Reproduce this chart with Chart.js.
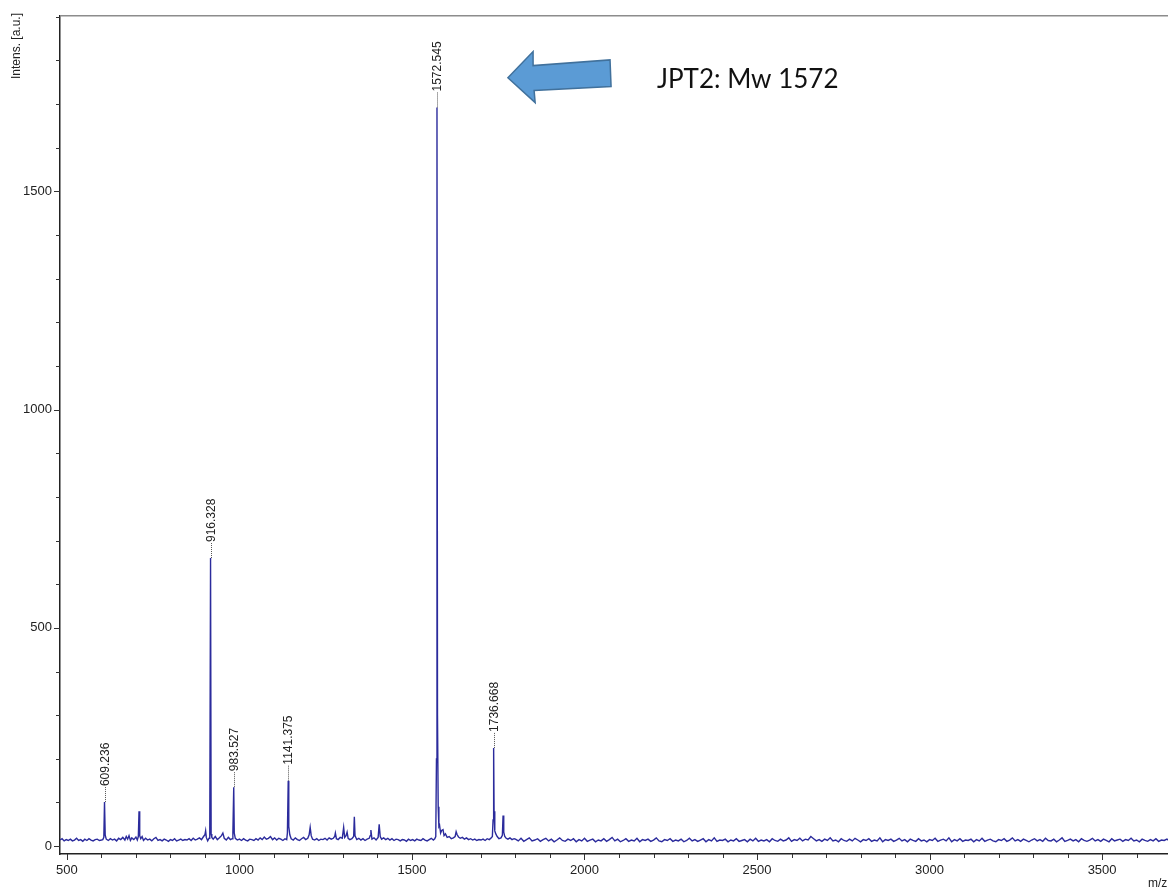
<!DOCTYPE html>
<html lang="en">
<head>
  <meta charset="UTF-8">
  <title>JPT2 MALDI spectrum</title>
  <script src="https://cdn.jsdelivr.net/npm/chart.js"></script>
  <style>
    html, body { margin: 0; padding: 0; background: #fff; }
    #wrap { width: 1168px; height: 891px; }
  </style>
</head>
<body>
  <div id="wrap"><canvas id="spec" width="1168" height="891"></canvas></div>
  <script>
    // spectrum, [m/z, intensity]
    const lowRange = [
      [480,14],[486,17],[492,12],[498,15],[504,13],[510,16],[516,12],[522,14],[528,18],[534,13],
      [540,15],[546,11],[552,16],[558,13],[564,17],[570,14],[576,12],[582,15],[588,16],[594,13],
      [600,14],[604,15],[607,20],[609,101],[611,25],[614,16],[620,13],[626,17],[632,14],[638,16],
      [644,12],[650,18],[656,15],[662,20],[668,14],[672,22],[676,16],[680,24],[684,13],[688,19],
      [694,15],[700,21],[704,14],[707,22],[709,80],[711,24],[714,17],[718,22],[722,13],[728,18],
      [734,14],[740,16],[746,12],[752,17],[758,20],[764,13],[770,15],[776,12],[782,16],[788,14],
      [794,11],[800,15],[806,13],[812,17],[818,12],[824,14],[830,16],[836,13],[842,15],[848,14],
      [854,17],[860,13],[866,18],[872,14],[878,16],[884,19],[890,15],[896,22],[900,26],[902,35],
      [904,20],[908,12],[912,18],[914,25],[916.3,660],[918,28],[920,20],[924,16],[930,22],[936,15],
      [942,19],[948,24],[952,30],[956,18],[962,14],[968,20],[974,15],[979,17],[981,30],[983.5,135],
      [985,30],[988,18],[994,14],[1000,16]
    ];
    const midRange = [
      [1006,13],[1012,17],[1018,14],[1024,12],[1030,16],[1036,15],[1042,13],[1048,17],[1054,14],[1060,19],
      [1066,15],[1072,21],[1078,16],[1084,18],[1090,22],[1096,15],[1102,19],[1108,14],[1114,18],[1120,16],
      [1126,13],[1132,17],[1137,15],[1139,30],[1141.4,150],[1143,45],[1146,26],[1150,17],[1156,14],[1162,19],
      [1168,15],[1174,13],[1180,17],[1186,20],[1192,15],[1198,18],[1202,26],[1205,43],[1208,24],[1212,16],
      [1218,14],[1224,17],[1230,13],[1236,16],[1242,15],[1248,18],[1254,14],[1260,19],[1266,16],[1272,18],
      [1276,22],[1278,30],[1281,17],[1286,15],[1292,20],[1298,18],[1302,43],[1305,20],[1309,24],[1312,32],
      [1315,18],[1320,15],[1326,17],[1331,22],[1333,67],[1335,24],[1340,15],[1346,18],[1352,14],[1358,17],
      [1364,13],[1370,16],[1376,18],[1379,24],[1381,37],[1384,16],[1390,19],[1396,14],[1402,20],[1405,50],
      [1408,22],[1412,16],[1418,19],[1424,15],[1430,18],[1436,14],[1442,17],[1448,13],[1454,16],[1460,15],
      [1466,12],[1472,15],[1478,14],[1484,11],[1490,16],[1496,13],[1502,15],[1508,12],[1514,16],[1520,14],
      [1526,13],[1532,17],[1538,14],[1544,12],[1550,15],[1556,18],[1562,14],[1566,17],[1569,22],[1571,200],
      [1572.5,1692],[1574,300],[1576,90],[1578,45],[1580,48],[1583,30],[1586,36],[1590,38],[1593,24],[1597,28],
      [1602,20],[1608,22],[1614,17],[1620,19],[1625,22],[1628,33],[1631,26],[1635,21],[1640,18],[1646,20],
      [1652,16],[1658,19],[1664,15],[1670,17],[1676,14],[1682,16],[1688,13],[1694,15],[1700,14],[1706,16],
      [1712,13],[1718,17],[1724,15],[1730,19],[1733,22],[1735,60],[1736.7,225],[1738,80],[1740,35],[1743,28],
      [1747,22],[1752,17],[1758,19],[1762,25],[1764,70],[1766,32],[1769,22],[1773,18],[1778,16],[1784,19],
      [1790,15],[1796,17]
    ];
    const highRange = [
      [1800,16],[1808,12],[1816,18],[1824,11],[1832,15],[1840,19],[1848,12],[1856,14],[1864,17],[1872,11],
      [1880,15],[1888,18],[1896,12],[1904,16],[1912,10],[1920,14],[1928,19],[1936,13],[1944,11],[1952,16],
      [1960,13],[1968,17],[1976,10],[1984,15],[1992,12],[2000,18],[2008,11],[2016,14],[2024,16],[2032,10],
      [2040,14],[2048,12],[2056,17],[2064,11],[2072,15],[2080,20],[2088,12],[2096,16],[2104,10],[2112,13],
      [2120,17],[2128,11],[2136,14],[2144,12],[2152,18],[2160,10],[2168,15],[2176,13],[2184,16],[2192,11],
      [2200,14],[2208,19],[2216,12],[2224,10],[2232,15],[2240,13],[2248,17],[2256,11],[2264,14],[2272,12],
      [2280,16],[2288,10],[2296,13],[2304,18],[2312,12],[2320,15],[2328,11],[2336,14],[2344,17],[2352,10],
      [2360,15],[2368,12],[2376,19],[2384,11],[2392,14],[2400,13],[2408,16],[2416,10],[2424,14],[2432,12],
      [2440,17],[2448,11],[2456,13],[2464,15],[2472,10],[2480,16],[2488,12],[2496,18],[2504,11],[2512,14],
      [2520,12],[2528,15],[2536,10],[2544,17],[2552,13],[2560,11],[2568,16],[2576,12],[2584,14],[2592,19],
      [2600,11],[2608,15],[2616,13],[2624,18],[2632,12],[2640,16],[2648,14],[2656,22],[2664,17],[2672,12],
      [2680,15],[2688,11],[2696,16],[2704,13],[2712,19],[2720,12],[2728,14],[2736,10],[2744,17],[2752,13],
      [2760,11],[2768,16],[2776,12],[2784,18],[2792,14],[2800,10],[2808,15],[2816,13],[2824,17],[2832,11],
      [2840,14],[2848,12],[2856,19],[2864,10],[2872,15],[2880,13],[2888,16],[2896,11],[2904,14],[2912,18],
      [2920,12],[2928,15],[2936,10],[2944,16],[2952,13],[2960,11],[2968,17],[2976,12],[2984,14],[2992,10],
      [3000,15],[3008,13],[3016,18],[3024,11],[3032,14],[3040,16],[3048,12],[3056,19],[3064,10],[3072,15],
      [3080,12],[3088,17],[3096,11],[3104,14],[3112,13],[3120,16],[3128,10],[3136,15],[3144,12],[3152,18],
      [3160,11],[3168,14],[3176,16],[3184,12],[3192,10],[3200,15],[3208,13],[3216,17],[3224,11],[3232,14],
      [3240,19],[3248,12],[3256,15],[3264,11],[3272,16],[3280,13],[3288,10],[3296,14],[3304,17],[3312,12],
      [3320,15],[3328,11],[3336,18],[3344,13],[3352,12],[3360,16],[3368,10],[3376,14],[3384,19],[3392,11],
      [3400,13],[3408,16],[3416,12],[3424,15],[3432,10],[3440,17],[3448,13],[3456,11],[3464,14],[3472,18],
      [3480,12],[3488,15],[3496,11],[3504,16],[3512,13],[3520,10],[3528,17],[3536,12],[3544,14],[3552,16],
      [3560,11],[3568,15],[3576,13],[3584,18],[3592,12],[3600,14],[3608,10],[3616,16],[3624,13],[3632,11],
      [3640,15],[3648,12],[3656,17],[3664,11],[3672,14],[3680,13],[3688,16],[3696,12]
    ];

    // annotated peaks
    const peakLabels = ['609.236', '916.328', '983.527', '1141.375', '1572.545', '1736.668'];
    const peakIntens = [101, 660, 135, 150, 1692, 225];

    const xTicks = [];
    for (let v = 500; v <= 3600; v += 100) xTicks.push(v);
    const yTicks = [];
    for (let v = 0; v <= 1900; v += 100) yTicks.push(v);

    // callout arrow (data units) and its caption
    const arrowMz = [1778, 1851, 1851, 2074, 2077, 1854, 1857];
    const arrowIn = [1760, 1820, 1788, 1801, 1740, 1731, 1703];
    const noteText = 'JPT2: Mw 1572';
    const notePos = [2210, 1737];

    const extras = {
      id: 'extras',
      afterDraw(chart) {
        const { ctx, chartArea: a, scales: { x, y } } = chart;
        ctx.save();

        // frame top
        ctx.strokeStyle = '#8c8c8c';
        ctx.lineWidth = 1.5;
        ctx.beginPath(); ctx.moveTo(a.left, a.top); ctx.lineTo(a.right, a.top); ctx.stroke();

        // tick marks, long on labelled values
        ctx.strokeStyle = '#333';
        ctx.lineWidth = 1;
        xTicks.forEach(v => {
          const px = Math.round(x.getPixelForValue(v)) + 0.5;
          const len = v % 500 === 0 ? 6 : 4;
          ctx.beginPath(); ctx.moveTo(px, a.bottom); ctx.lineTo(px, a.bottom + len); ctx.stroke();
        });
        yTicks.forEach(v => {
          const py = Math.round(y.getPixelForValue(v)) + 0.5;
          const len = v % 500 === 0 ? 6 : 4;
          ctx.beginPath(); ctx.moveTo(a.left, py); ctx.lineTo(a.left - len, py); ctx.stroke();
        });

        // axis titles
        ctx.fillStyle = '#222';
        ctx.font = '12px "Liberation Sans", Arial, sans-serif';
        ctx.save();
        ctx.translate(17, 13);
        ctx.rotate(-Math.PI / 2);
        ctx.textAlign = 'right';
        ctx.textBaseline = 'middle';
        ctx.fillText('Intens. [a.u.]', 0, 0);
        ctx.restore();
        ctx.textAlign = 'left';
        ctx.textBaseline = 'top';
        ctx.fillText('m/z', 1148, 878);

        // peak labels with dotted leaders
        ctx.font = '12px "Liberation Sans", Arial, sans-serif';
        peakLabels.forEach((lab, i) => {
          const px = Math.round(x.getPixelForValue(parseFloat(lab))) + 0.5;
          const py = y.getPixelForValue(peakIntens[i]);
          ctx.strokeStyle = '#555';
          ctx.setLineDash([1, 1]);
          ctx.beginPath(); ctx.moveTo(px, py); ctx.lineTo(px, py - 15); ctx.stroke();
          ctx.setLineDash([]);
          ctx.save();
          ctx.translate(px, py - 16);
          ctx.rotate(-Math.PI / 2);
          ctx.textAlign = 'left';
          ctx.textBaseline = 'middle';
          ctx.fillStyle = '#222';
          ctx.fillText(lab, 0, 0);
          ctx.restore();
        });

        // callout arrow
        ctx.beginPath();
        arrowMz.forEach((m, i) => {
          const px = x.getPixelForValue(m), py = y.getPixelForValue(arrowIn[i]);
          if (i === 0) ctx.moveTo(px, py); else ctx.lineTo(px, py);
        });
        ctx.closePath();
        ctx.fillStyle = '#5b9bd5';
        ctx.fill();
        ctx.strokeStyle = '#41719c';
        ctx.lineWidth = 1.5;
        ctx.stroke();

        ctx.fillStyle = '#111';
        ctx.font = '26px Lato, "Open Sans", sans-serif';
        ctx.textAlign = 'left';
        ctx.textBaseline = 'alphabetic';
        ctx.fillText(noteText, x.getPixelForValue(notePos[0]), y.getPixelForValue(notePos[1]));

        ctx.restore();
      }
    };

    new Chart(document.getElementById('spec'), {
      type: 'line',
      data: {
        datasets: [{
          data: lowRange.concat(midRange, highRange),
          borderColor: '#2b2b9c',
          borderWidth: 1.4,
          pointRadius: 0,
          tension: 0,
          fill: false
        }]
      },
      options: {
        responsive: false,
        animation: false,
        events: [],
        layout: { padding: { top: 13, right: 0, left: 0, bottom: 0 } },
        plugins: { legend: { display: false }, tooltip: { enabled: false } },
        scales: {
          x: {
            type: 'linear',
            min: 480,
            max: 3691,
            afterFit: s => { s.height = 37; },
            afterBuildTicks: s => { s.ticks = xTicks.map(v => ({ value: v })); },
            grid: { drawOnChartArea: false, drawTicks: false },
            border: { display: true, color: '#222', width: 1.5 },
            ticks: {
              autoSkip: false,
              maxRotation: 0,
              padding: 9,
              color: '#222',
              font: { family: '"Liberation Sans", Arial, sans-serif', size: 13 },
              callback: v => (v % 500 === 0 ? String(v) : '')
            }
          },
          y: {
            type: 'linear',
            min: -18,
            max: 1902,
            afterFit: s => { s.width = 60; },
            afterBuildTicks: s => { s.ticks = yTicks.map(v => ({ value: v })); },
            grid: { drawOnChartArea: false, drawTicks: false },
            border: { display: true, color: '#222', width: 1.5 },
            ticks: {
              autoSkip: false,
              padding: 8,
              color: '#222',
              font: { family: '"Liberation Sans", Arial, sans-serif', size: 13 },
              callback: v => (v % 500 === 0 ? String(v) : '')
            }
          }
        }
      },
      plugins: [extras]
    });
  </script>
</body>
</html>
